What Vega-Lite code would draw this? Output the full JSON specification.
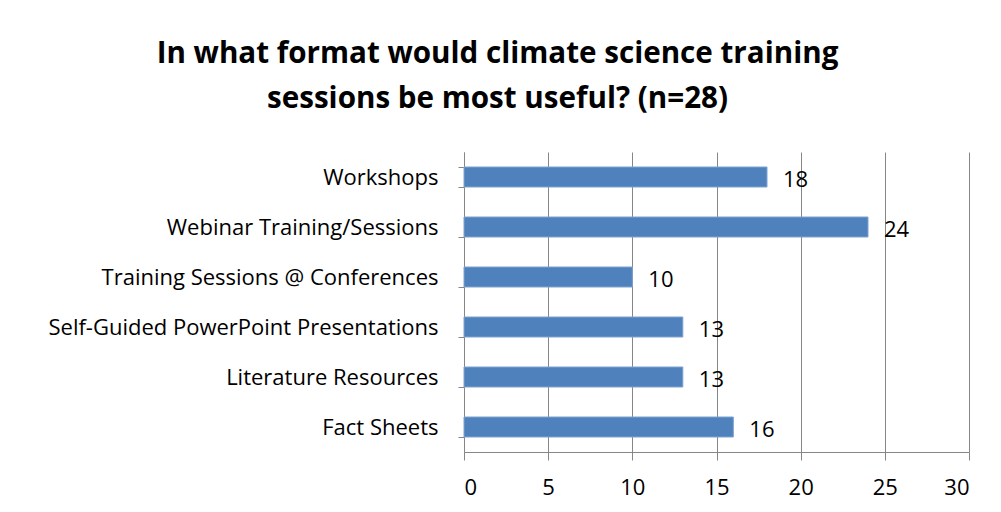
{
  "$schema": "https://vega.github.io/schema/vega-lite/v6.json",
  "width": 505,
  "height": 300,
  "autosize": {"type": "none"},
  "padding": {"left": 464, "top": 152, "right": 32, "bottom": 60},
  "background": "white",
  "title": {
    "text": ["In what format would climate science training", "sessions be most useful? (n=28)"],
    "anchor": "middle",
    "frame": "group",
    "dx": -219,
    "offset": 26,
    "fontSize": 29.6,
    "fontWeight": "bold",
    "font": "Open Sans",
    "color": "black",
    "lineHeight": 45
  },
  "data": {
    "values": [
      {"format": "Workshops", "count": 18},
      {"format": "Webinar Training/Sessions", "count": 24},
      {"format": "Training Sessions @ Conferences", "count": 10},
      {"format": "Self-Guided PowerPoint Presentations", "count": 13},
      {"format": "Literature Resources", "count": 13},
      {"format": "Fact Sheets", "count": 16}
    ]
  },
  "encoding": {
    "y": {
      "field": "format",
      "type": "nominal",
      "sort": null,
      "title": null,
      "scale": {"paddingInner": 0.6, "paddingOuter": 0.3},
      "axis": {
        "tickBand": "extent",
        "tickSize": 6,
        "tickColor": "#868686",
        "domainColor": "#868686",
        "labelPadding": 20,
        "labelFontSize": 22,
        "labelFont": "Open Sans",
        "labelColor": "black",
        "grid": false,
        "labelLimit": 500
      }
    },
    "x": {
      "field": "count",
      "type": "quantitative",
      "title": null,
      "scale": {"domain": [0, 30], "nice": false},
      "axis": {
        "values": [0, 5, 10, 15, 20, 25, 30],
        "tickSize": 8,
        "tickColor": "#868686",
        "domainColor": "#868686",
        "gridColor": "#868686",
        "gridOpacity": 1,
        "labelPadding": 17,
        "labelFontSize": 22,
        "labelFont": "Open Sans",
        "labelColor": "black"
      }
    }
  },
  "layer": [
    {"mark": {"type": "bar", "color": "#4F81BD", "stroke": "#7FA3D0", "strokeWidth": 1}},
    {
      "mark": {"type": "text", "align": "left", "baseline": "middle", "dx": 16, "dy": 3, "fontSize": 22, "font": "Open Sans", "color": "black"},
      "encoding": {"text": {"field": "count", "type": "quantitative"}}
    }
  ],
  "config": {"view": {"stroke": null}}
}
